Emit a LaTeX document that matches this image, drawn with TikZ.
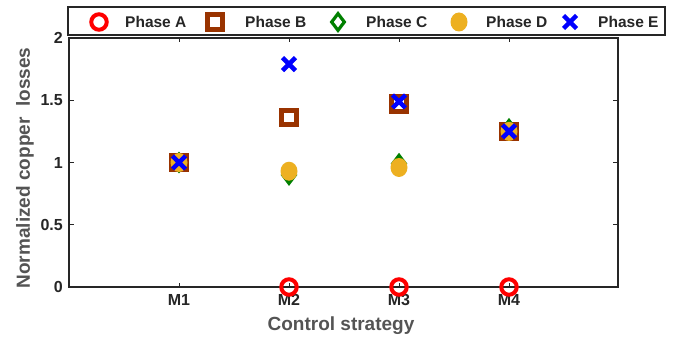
\documentclass[tikz,border=0pt]{standalone}
\usepackage{fontspec}
\setmainfont{Liberation Sans}
\usetikzlibrary{shapes.geometric,shapes.misc}
\definecolor{phA}{rgb}{1,0,0}
\definecolor{phB}{rgb}{0.6,0.2,0}
\definecolor{phC}{rgb}{0,0.5,0}
\definecolor{phD}{rgb}{0.93,0.69,0.13}
\definecolor{phE}{rgb}{0,0,1}
\definecolor{axc}{rgb}{0.15,0.15,0.15}
\definecolor{labc}{rgb}{0.33,0.33,0.33}
\tikzset{
  mA/.style={circle,draw=phA,line width=4pt,minimum size=15.5pt,inner sep=0pt},
  mB/.style={rectangle,draw=phB,line width=5pt,minimum size=14.5pt,inner sep=0pt},
  mC/.style={diamond,draw=phC,line width=3.2pt,minimum width=14pt,minimum height=18pt,inner sep=0pt},
  mD/.style={ellipse,fill=phD,minimum width=17pt,minimum height=19pt,inner sep=0pt},
  mE/.style={cross out,draw=phE,line width=4.5pt,minimum size=8.5pt,inner sep=0pt},
  ticklab/.style={font=\bfseries\fontsize{16}{16}\selectfont,text=axc,inner sep=0pt},
  axlab/.style={font=\bfseries\fontsize{19}{19}\selectfont,text=labc,inner sep=0pt},
  leglab/.style={font=\bfseries\fontsize{15.5}{15.5}\selectfont,text=axc,inner sep=0pt,anchor=west},
  axline/.style={draw=axc,line width=1.1pt},
  tickline/.style={draw=axc,line width=0.7pt}
}
\begin{document}
\begin{tikzpicture}[x=1pt,y=1pt]
\useasboundingbox[fill=white] (0,0) rectangle (678,343);
% axes frame: left 69, right 618, bottom 56, top 305
\coordinate (bl) at (69,56);
\coordinate (tr) at (618,305);
\draw[axline] (bl) rectangle (tr);
% y ticks
\foreach \v/\t in {0/0,0.5/0.5,1/1,1.5/1.5,2/2}{
  \draw[tickline] (69,56+124.5*\v) -- ++(5,0);
  \draw[tickline] (618,56+124.5*\v) -- ++(-5,0);
  \node[ticklab,anchor=east] (y\t) at (63,56+124.5*\v) {\t};
}
% x ticks
\foreach \i in {1,2,3,4}{
  \draw[tickline] (69+110*\i,56) -- ++(0,4);
  \draw[tickline] (69+110*\i,305) -- ++(0,-4);
  \node[ticklab,anchor=center] (xM\i) at (69+110*\i,43) {M\i};
}
% axis labels
\node[axlab] (xlab) at (341,17) {Control strategy};
\node[axlab,rotate=90] (ylab) at (25,175) {Normalized copper\ \ losses};
% data: y = 56 + 124.5*v
% Phase A
\node[mA] (a1) at (179,{56+124.5*1.0}) {};
\node[mA] (a2) at (289,56) {};
\node[mA] (a3) at (399,56) {};
\node[mA] (a4) at (509,56) {};
% Phase B
\node[mB] (b1) at (179,{56+124.5*1.0}) {};
\node[mB] (b2) at (289,{56+124.5*1.36}) {};
\node[mB] (b3) at (399,{56+124.5*1.47}) {};
\node[mB] (b4) at (509,{56+124.5*1.25}) {};
% Phase C
\node[mC] (c1) at (179,{56+124.5*1.0}) {};
\node[mC] (c2) at (289,{56+124.5*0.90}) {};
\node[mC] (c3) at (399,{56+124.5*0.99}) {};
\node[mC] (c4) at (509,{56+124.5*1.27}) {};
% Phase D
\node[mD] (d1) at (179,{56+124.5*1.0}) {};
\node[mD] (d2) at (289,{56+124.5*0.93}) {};
\node[mD] (d3) at (399,{56+124.5*0.96}) {};
\node[mD] (d4) at (509,{56+124.5*1.25}) {};
% Phase E
\node[mE] (e1) at (179,{56+124.5*1.0}) {};
\node[mE] (e2) at (289,{56+124.5*1.79}) {};
\node[mE] (e3) at (399,{56+124.5*1.49}) {};
\node[mE] (e4) at (509,{56+124.5*1.25}) {};
% legend
\draw[fill=white,draw=axc,line width=1.1pt] (68,308) rectangle (665,336);
\node[mA] (lA) at (99,321) {};
\node[leglab] (tA) at (125,321) {Phase A};
\node[mB] (lB) at (215,321) {};
\node[leglab] (tB) at (245,321) {Phase B};
\node[mC] (lC) at (338,321) {};
\node[leglab] (tC) at (366,321) {Phase C};
\node[mD] (lD) at (459,321) {};
\node[leglab] (tD) at (486,321) {Phase D};
\node[mE] (lE) at (570,321) {};
\node[leglab] (tE) at (598,321) {Phase E};
\end{tikzpicture}
\end{document}
